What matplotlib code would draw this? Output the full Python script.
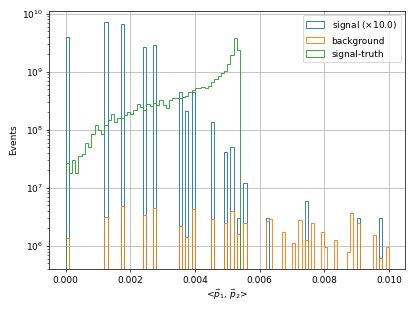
import numpy as np
import matplotlib
matplotlib.use("Agg")
import matplotlib.pyplot as plt

# binning: 100 bins over [0, 0.01]
bin_lo, bin_hi, n_bins = 0.0, 0.01, 100
bin_w = (bin_hi - bin_lo) / n_bins

signal_scale = 10.0
# signal (unscaled) : bin lower edges and contents
signal_x = [0.0000, 0.0012, 0.0017, 0.0024, 0.0027, 0.0035, 0.0037, 0.0039,
            0.0045, 0.0049, 0.0051, 0.0053, 0.0055, 0.0062, 0.0074, 0.0090, 0.0097]
signal_w = [3.96e8, 7.19e8, 6.55e8, 2.70e8, 2.84e8, 4.57e7, 2.11e7, 4.57e7,
            1.36e7, 4.12e6, 5.09e6, 3.0e5, 1.2e6, 3.0e5, 6.0e5, 3.0e5, 3.0e5]

# background
bkg_x = [0.0000, 0.0012, 0.0017, 0.0024, 0.0027, 0.0035, 0.0037, 0.0039,
         0.0045, 0.0049, 0.0051, 0.0053, 0.0055, 0.0062, 0.0063, 0.0067,
         0.0070, 0.0072, 0.0074, 0.0076, 0.0079, 0.0080, 0.0083, 0.0087,
         0.0088, 0.0090, 0.0095, 0.0097, 0.0099]
bkg_w = [1.36e6, 3.2e6, 4.9e6, 3.38e6, 4.47e6, 2.2e6, 1.41e6, 4.3e6,
         2.9e6, 2.5e6, 3.96e6, 1.59e6, 2.46e6, 2.7e6, 2.9e6, 1.74e6,
         1.14e6, 2.77e6, 1.25e6, 2.46e6, 1.74e6, 9.7e5, 1.25e6, 7.7e5,
         3.75e6, 2.46e6, 1.57e6, 6.3e5, 9.4e5]

# signal-truth: contents of the first 54 bins
truth_w = [2.67e7, 1.79e7, 2.96e7, 1.79e7, 3.56e7, 3.85e7, 5.89e7, 5.02e7,
           8.53e7, 1.19e8, 9.75e7, 8.41e7, 1.19e8, 1.49e8, 1.89e8, 1.34e8,
           1.59e8, 1.59e8, 1.79e8, 1.99e8, 1.89e8, 2.21e8, 2.77e8, 2.43e8,
           2.21e8, 2.81e8, 2.59e8, 2.88e8, 2.66e8, 3.24e8, 2.70e8, 2.37e8,
           3.29e8, 3.47e8, 3.56e8, 3.56e8, 3.66e8, 3.76e8, 4.52e8, 4.90e8,
           5.16e8, 5.16e8, 5.45e8, 5.16e8, 5.74e8, 6.55e8, 7.48e8, 8.32e8,
           9.48e8, 1.04e9, 1.37e9, 1.96e9, 3.80e9, 2.39e9]
truth_x = [bin_lo + i * bin_w for i in range(len(truth_w))]

labels = ["signal ($\\times$10.0)", "background", "signal-truth"]

edges = np.linspace(bin_lo, bin_hi, n_bins + 1)

fig = plt.figure(figsize=(6.4, 4.8), dpi=64.84)
ax = fig.add_axes([0.119, 0.135, 0.857, 0.83])

ax.hist(np.array(signal_x) + bin_w / 2, bins=edges,
        weights=np.array(signal_w) * signal_scale, histtype="step",
        color="C0", label=labels[0], log=True)
ax.hist(np.array(bkg_x) + bin_w / 2, bins=edges, weights=bkg_w,
        histtype="step", color="C1", label=labels[1], log=True)
ax.hist(np.array(truth_x) + bin_w / 2, bins=edges, weights=truth_w,
        histtype="step", color="C2", label=labels[2], log=True)

ax.set_yscale("log")
ax.set_xlim(-0.0005, 0.0105)
ax.set_ylim(4.0e5, 1.13e10)
ax.grid(True)
ax.set_axisbelow(True)
ax.set_ylabel("Events")
ax.set_xlabel(r"<$\vec{p}_1$, $\vec{p}_2$>")
ax.legend(loc="upper right")

fig.savefig("out.png", dpi=64.84)
